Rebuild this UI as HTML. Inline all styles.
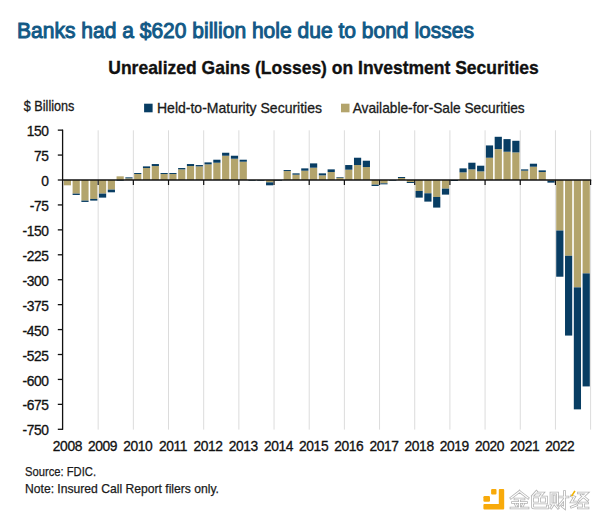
<!DOCTYPE html>
<html><head><meta charset="utf-8">
<style>
html,body{margin:0;padding:0;background:#fff;}
body{width:600px;height:521px;overflow:hidden;}
svg{display:block;}
text{font-family:"Liberation Sans",sans-serif;}
.ax{font-size:13.8px;fill:#111;stroke:#111;stroke-width:0.3px;letter-spacing:-0.4px;}
.t1{font-size:22px;fill:#125986;stroke:#125986;stroke-width:1.0px;}
.t2{font-size:19px;font-weight:bold;fill:#111;stroke:#111;stroke-width:0.35px;}
.lg{font-size:14.2px;fill:#1a1a1a;stroke:#1a1a1a;stroke-width:0.3px;}
.ft{font-size:13px;fill:#1a1a1a;stroke:#1a1a1a;stroke-width:0.25px;}
</style></head><body>
<svg width="600" height="521" viewBox="0 0 600 521">
<rect width="600" height="521" fill="#fff"/>
<text x="17" y="37.5" class="t1" textLength="457" lengthAdjust="spacingAndGlyphs">Banks had a $620 billion hole due to bond losses</text>
<text x="108.3" y="74" class="t2" textLength="430.5" lengthAdjust="spacingAndGlyphs">Unrealized Gains (Losses) on Investment Securities</text>
<text x="23.8" y="111" class="lg" textLength="50.6" lengthAdjust="spacingAndGlyphs">$ Billions</text>
<rect x="144.1" y="103.7" width="8.5" height="8.6" fill="#083d63"/>
<text x="157" y="113" class="lg" textLength="165" lengthAdjust="spacingAndGlyphs">Held-to-Maturity Securities</text>
<rect x="341" y="103.7" width="8.5" height="8.6" fill="#b3a46c"/>
<text x="352.7" y="113" class="lg" textLength="172" lengthAdjust="spacingAndGlyphs">Available-for-Sale Securities</text>
<line x1="98.17" y1="130.3" x2="98.17" y2="429.6" stroke="#dcdcdc" stroke-width="1"/>
<line x1="133.35" y1="130.3" x2="133.35" y2="429.6" stroke="#dcdcdc" stroke-width="1"/>
<line x1="168.52" y1="130.3" x2="168.52" y2="429.6" stroke="#dcdcdc" stroke-width="1"/>
<line x1="203.69" y1="130.3" x2="203.69" y2="429.6" stroke="#dcdcdc" stroke-width="1"/>
<line x1="238.87" y1="130.3" x2="238.87" y2="429.6" stroke="#dcdcdc" stroke-width="1"/>
<line x1="274.04" y1="130.3" x2="274.04" y2="429.6" stroke="#dcdcdc" stroke-width="1"/>
<line x1="309.21" y1="130.3" x2="309.21" y2="429.6" stroke="#dcdcdc" stroke-width="1"/>
<line x1="344.39" y1="130.3" x2="344.39" y2="429.6" stroke="#dcdcdc" stroke-width="1"/>
<line x1="379.56" y1="130.3" x2="379.56" y2="429.6" stroke="#dcdcdc" stroke-width="1"/>
<line x1="414.73" y1="130.3" x2="414.73" y2="429.6" stroke="#dcdcdc" stroke-width="1"/>
<line x1="449.91" y1="130.3" x2="449.91" y2="429.6" stroke="#dcdcdc" stroke-width="1"/>
<line x1="485.08" y1="130.3" x2="485.08" y2="429.6" stroke="#dcdcdc" stroke-width="1"/>
<line x1="520.25" y1="130.3" x2="520.25" y2="429.6" stroke="#dcdcdc" stroke-width="1"/>
<line x1="555.43" y1="130.3" x2="555.43" y2="429.6" stroke="#dcdcdc" stroke-width="1"/>
<line x1="590.60" y1="130.3" x2="590.60" y2="429.6" stroke="#dcdcdc" stroke-width="1"/>
<rect x="63.80" y="180.00" width="7.2" height="5.32" fill="#b3a46c"/>
<rect x="72.59" y="180.00" width="7.2" height="13.63" fill="#b3a46c"/>
<rect x="72.59" y="193.63" width="7.2" height="1.33" fill="#083d63"/>
<rect x="81.38" y="180.00" width="7.2" height="20.61" fill="#b3a46c"/>
<rect x="81.38" y="200.61" width="7.2" height="1.33" fill="#083d63"/>
<rect x="90.18" y="180.00" width="7.2" height="18.95" fill="#b3a46c"/>
<rect x="90.18" y="198.95" width="7.2" height="1.66" fill="#083d63"/>
<rect x="98.97" y="180.00" width="7.2" height="13.63" fill="#b3a46c"/>
<rect x="98.97" y="193.63" width="7.2" height="3.99" fill="#083d63"/>
<rect x="107.76" y="180.00" width="7.2" height="9.64" fill="#b3a46c"/>
<rect x="107.76" y="189.64" width="7.2" height="2.66" fill="#083d63"/>
<rect x="116.56" y="176.34" width="7.2" height="3.66" fill="#b3a46c"/>
<rect x="116.56" y="180.00" width="7.2" height="0.66" fill="#083d63"/>
<rect x="125.35" y="178.34" width="7.2" height="1.66" fill="#b3a46c"/>
<rect x="125.35" y="177.34" width="7.2" height="1.00" fill="#083d63"/>
<rect x="134.14" y="174.02" width="7.2" height="5.98" fill="#b3a46c"/>
<rect x="134.14" y="173.02" width="7.2" height="1.00" fill="#083d63"/>
<rect x="142.94" y="168.03" width="7.2" height="11.97" fill="#b3a46c"/>
<rect x="142.94" y="166.37" width="7.2" height="1.66" fill="#083d63"/>
<rect x="151.73" y="166.04" width="7.2" height="13.96" fill="#b3a46c"/>
<rect x="151.73" y="164.04" width="7.2" height="1.99" fill="#083d63"/>
<rect x="160.52" y="174.02" width="7.2" height="5.98" fill="#b3a46c"/>
<rect x="160.52" y="173.02" width="7.2" height="1.00" fill="#083d63"/>
<rect x="169.32" y="174.02" width="7.2" height="5.98" fill="#b3a46c"/>
<rect x="169.32" y="173.02" width="7.2" height="1.00" fill="#083d63"/>
<rect x="178.11" y="169.36" width="7.2" height="10.64" fill="#b3a46c"/>
<rect x="178.11" y="168.03" width="7.2" height="1.33" fill="#083d63"/>
<rect x="186.90" y="166.04" width="7.2" height="13.96" fill="#b3a46c"/>
<rect x="186.90" y="164.04" width="7.2" height="1.99" fill="#083d63"/>
<rect x="195.70" y="166.37" width="7.2" height="13.63" fill="#b3a46c"/>
<rect x="195.70" y="165.04" width="7.2" height="1.33" fill="#083d63"/>
<rect x="204.49" y="164.38" width="7.2" height="15.62" fill="#b3a46c"/>
<rect x="204.49" y="162.38" width="7.2" height="1.99" fill="#083d63"/>
<rect x="213.28" y="162.72" width="7.2" height="17.28" fill="#b3a46c"/>
<rect x="213.28" y="159.72" width="7.2" height="2.99" fill="#083d63"/>
<rect x="222.08" y="155.73" width="7.2" height="24.27" fill="#b3a46c"/>
<rect x="222.08" y="152.74" width="7.2" height="2.99" fill="#083d63"/>
<rect x="230.87" y="158.73" width="7.2" height="21.27" fill="#b3a46c"/>
<rect x="230.87" y="155.73" width="7.2" height="2.99" fill="#083d63"/>
<rect x="239.66" y="161.72" width="7.2" height="18.28" fill="#b3a46c"/>
<rect x="239.66" y="159.72" width="7.2" height="1.99" fill="#083d63"/>
<rect x="248.46" y="180.00" width="7.2" height="0.66" fill="#083d63"/>
<rect x="257.25" y="180.00" width="7.2" height="0.66" fill="#083d63"/>
<rect x="266.04" y="180.00" width="7.2" height="2.33" fill="#b3a46c"/>
<rect x="266.04" y="182.33" width="7.2" height="2.99" fill="#083d63"/>
<rect x="274.84" y="180.00" width="7.2" height="0.66" fill="#083d63"/>
<rect x="283.63" y="171.03" width="7.2" height="8.97" fill="#b3a46c"/>
<rect x="283.63" y="170.03" width="7.2" height="1.00" fill="#083d63"/>
<rect x="292.42" y="174.68" width="7.2" height="5.32" fill="#b3a46c"/>
<rect x="292.42" y="173.35" width="7.2" height="1.33" fill="#083d63"/>
<rect x="301.22" y="170.69" width="7.2" height="9.31" fill="#b3a46c"/>
<rect x="301.22" y="168.37" width="7.2" height="2.33" fill="#083d63"/>
<rect x="310.01" y="167.70" width="7.2" height="12.30" fill="#b3a46c"/>
<rect x="310.01" y="163.38" width="7.2" height="4.32" fill="#083d63"/>
<rect x="318.80" y="175.35" width="7.2" height="4.65" fill="#b3a46c"/>
<rect x="318.80" y="173.35" width="7.2" height="1.99" fill="#083d63"/>
<rect x="327.60" y="172.02" width="7.2" height="7.98" fill="#b3a46c"/>
<rect x="327.60" y="169.36" width="7.2" height="2.66" fill="#083d63"/>
<rect x="336.39" y="177.67" width="7.2" height="2.33" fill="#b3a46c"/>
<rect x="336.39" y="177.01" width="7.2" height="0.66" fill="#083d63"/>
<rect x="345.18" y="169.70" width="7.2" height="10.30" fill="#b3a46c"/>
<rect x="345.18" y="165.04" width="7.2" height="4.65" fill="#083d63"/>
<rect x="353.98" y="165.04" width="7.2" height="14.96" fill="#b3a46c"/>
<rect x="353.98" y="157.73" width="7.2" height="7.31" fill="#083d63"/>
<rect x="362.77" y="167.04" width="7.2" height="12.96" fill="#b3a46c"/>
<rect x="362.77" y="160.72" width="7.2" height="6.32" fill="#083d63"/>
<rect x="371.56" y="180.00" width="7.2" height="4.65" fill="#b3a46c"/>
<rect x="371.56" y="184.65" width="7.2" height="1.33" fill="#083d63"/>
<rect x="380.36" y="180.00" width="7.2" height="3.32" fill="#b3a46c"/>
<rect x="380.36" y="183.32" width="7.2" height="1.00" fill="#083d63"/>
<rect x="389.15" y="180.00" width="7.2" height="0.66" fill="#083d63"/>
<rect x="397.94" y="178.01" width="7.2" height="1.99" fill="#b3a46c"/>
<rect x="397.94" y="177.01" width="7.2" height="1.00" fill="#083d63"/>
<rect x="406.74" y="180.00" width="7.2" height="1.99" fill="#b3a46c"/>
<rect x="406.74" y="181.99" width="7.2" height="1.00" fill="#083d63"/>
<rect x="415.53" y="180.00" width="7.2" height="10.97" fill="#b3a46c"/>
<rect x="415.53" y="190.97" width="7.2" height="6.65" fill="#083d63"/>
<rect x="424.32" y="180.00" width="7.2" height="13.30" fill="#b3a46c"/>
<rect x="424.32" y="193.30" width="7.2" height="8.31" fill="#083d63"/>
<rect x="433.12" y="180.00" width="7.2" height="16.95" fill="#b3a46c"/>
<rect x="433.12" y="196.95" width="7.2" height="10.64" fill="#083d63"/>
<rect x="441.91" y="180.00" width="7.2" height="8.64" fill="#b3a46c"/>
<rect x="441.91" y="188.64" width="7.2" height="5.98" fill="#083d63"/>
<rect x="450.70" y="180.00" width="7.2" height="1.00" fill="#083d63"/>
<rect x="459.50" y="172.35" width="7.2" height="7.65" fill="#b3a46c"/>
<rect x="459.50" y="168.37" width="7.2" height="3.99" fill="#083d63"/>
<rect x="468.29" y="169.36" width="7.2" height="10.64" fill="#b3a46c"/>
<rect x="468.29" y="162.72" width="7.2" height="6.65" fill="#083d63"/>
<rect x="477.08" y="171.36" width="7.2" height="8.64" fill="#b3a46c"/>
<rect x="477.08" y="165.71" width="7.2" height="5.65" fill="#083d63"/>
<rect x="485.88" y="157.73" width="7.2" height="22.27" fill="#b3a46c"/>
<rect x="485.88" y="145.43" width="7.2" height="12.30" fill="#083d63"/>
<rect x="494.67" y="149.09" width="7.2" height="30.91" fill="#b3a46c"/>
<rect x="494.67" y="136.79" width="7.2" height="12.30" fill="#083d63"/>
<rect x="503.46" y="151.75" width="7.2" height="28.25" fill="#b3a46c"/>
<rect x="503.46" y="139.11" width="7.2" height="12.63" fill="#083d63"/>
<rect x="512.26" y="152.41" width="7.2" height="27.59" fill="#b3a46c"/>
<rect x="512.26" y="140.78" width="7.2" height="11.63" fill="#083d63"/>
<rect x="521.05" y="170.69" width="7.2" height="9.31" fill="#b3a46c"/>
<rect x="521.05" y="169.36" width="7.2" height="1.33" fill="#083d63"/>
<rect x="529.84" y="166.70" width="7.2" height="13.30" fill="#b3a46c"/>
<rect x="529.84" y="163.71" width="7.2" height="2.99" fill="#083d63"/>
<rect x="538.64" y="172.02" width="7.2" height="7.98" fill="#b3a46c"/>
<rect x="538.64" y="170.36" width="7.2" height="1.66" fill="#083d63"/>
<rect x="547.43" y="180.00" width="7.2" height="0.66" fill="#b3a46c"/>
<rect x="547.43" y="180.66" width="7.2" height="1.99" fill="#083d63"/>
<rect x="556.22" y="180.00" width="7.2" height="50.52" fill="#b3a46c"/>
<rect x="556.22" y="230.52" width="7.2" height="46.20" fill="#083d63"/>
<rect x="565.02" y="180.00" width="7.2" height="75.79" fill="#b3a46c"/>
<rect x="565.02" y="255.79" width="7.2" height="79.78" fill="#083d63"/>
<rect x="573.81" y="180.00" width="7.2" height="107.37" fill="#b3a46c"/>
<rect x="573.81" y="287.37" width="7.2" height="121.99" fill="#083d63"/>
<rect x="582.60" y="180.00" width="7.2" height="93.40" fill="#b3a46c"/>
<rect x="582.60" y="273.40" width="7.2" height="113.02" fill="#083d63"/>
<line x1="62.6" y1="129.7" x2="62.6" y2="429.8" stroke="#111" stroke-width="1.3"/>
<line x1="57.8" y1="130.14" x2="63" y2="130.14" stroke="#111" stroke-width="1.3"/>
<line x1="57.8" y1="155.07" x2="63" y2="155.07" stroke="#111" stroke-width="1.3"/>
<line x1="57.8" y1="180.00" x2="63" y2="180.00" stroke="#111" stroke-width="1.3"/>
<line x1="57.8" y1="204.93" x2="63" y2="204.93" stroke="#111" stroke-width="1.3"/>
<line x1="57.8" y1="229.86" x2="63" y2="229.86" stroke="#111" stroke-width="1.3"/>
<line x1="57.8" y1="254.79" x2="63" y2="254.79" stroke="#111" stroke-width="1.3"/>
<line x1="57.8" y1="279.72" x2="63" y2="279.72" stroke="#111" stroke-width="1.3"/>
<line x1="57.8" y1="304.65" x2="63" y2="304.65" stroke="#111" stroke-width="1.3"/>
<line x1="57.8" y1="329.58" x2="63" y2="329.58" stroke="#111" stroke-width="1.3"/>
<line x1="57.8" y1="354.51" x2="63" y2="354.51" stroke="#111" stroke-width="1.3"/>
<line x1="57.8" y1="379.44" x2="63" y2="379.44" stroke="#111" stroke-width="1.3"/>
<line x1="57.8" y1="404.37" x2="63" y2="404.37" stroke="#111" stroke-width="1.3"/>
<line x1="57.8" y1="429.30" x2="63" y2="429.30" stroke="#111" stroke-width="1.3"/>
<line x1="62" y1="180.0" x2="591.2" y2="180.0" stroke="#111" stroke-width="1.5"/>
<line x1="98.17" y1="180.0" x2="98.17" y2="185" stroke="#111" stroke-width="1.2"/>
<line x1="133.35" y1="180.0" x2="133.35" y2="185" stroke="#111" stroke-width="1.2"/>
<line x1="168.52" y1="180.0" x2="168.52" y2="185" stroke="#111" stroke-width="1.2"/>
<line x1="203.69" y1="180.0" x2="203.69" y2="185" stroke="#111" stroke-width="1.2"/>
<line x1="238.87" y1="180.0" x2="238.87" y2="185" stroke="#111" stroke-width="1.2"/>
<line x1="274.04" y1="180.0" x2="274.04" y2="185" stroke="#111" stroke-width="1.2"/>
<line x1="309.21" y1="180.0" x2="309.21" y2="185" stroke="#111" stroke-width="1.2"/>
<line x1="344.39" y1="180.0" x2="344.39" y2="185" stroke="#111" stroke-width="1.2"/>
<line x1="379.56" y1="180.0" x2="379.56" y2="185" stroke="#111" stroke-width="1.2"/>
<line x1="414.73" y1="180.0" x2="414.73" y2="185" stroke="#111" stroke-width="1.2"/>
<line x1="449.91" y1="180.0" x2="449.91" y2="185" stroke="#111" stroke-width="1.2"/>
<line x1="485.08" y1="180.0" x2="485.08" y2="185" stroke="#111" stroke-width="1.2"/>
<line x1="520.25" y1="180.0" x2="520.25" y2="185" stroke="#111" stroke-width="1.2"/>
<line x1="555.43" y1="180.0" x2="555.43" y2="185" stroke="#111" stroke-width="1.2"/>
<line x1="590.60" y1="180.0" x2="590.60" y2="185" stroke="#111" stroke-width="1.2"/>
<text x="48.6" y="136.24" text-anchor="end" class="ax">150</text>
<text x="48.6" y="161.17" text-anchor="end" class="ax">75</text>
<text x="48.6" y="186.10" text-anchor="end" class="ax">0</text>
<text x="48.6" y="211.03" text-anchor="end" class="ax">-75</text>
<text x="48.6" y="235.96" text-anchor="end" class="ax">-150</text>
<text x="48.6" y="260.89" text-anchor="end" class="ax">-225</text>
<text x="48.6" y="285.82" text-anchor="end" class="ax">-300</text>
<text x="48.6" y="310.75" text-anchor="end" class="ax">-375</text>
<text x="48.6" y="335.68" text-anchor="end" class="ax">-450</text>
<text x="48.6" y="360.61" text-anchor="end" class="ax">-525</text>
<text x="48.6" y="385.54" text-anchor="end" class="ax">-600</text>
<text x="48.6" y="410.47" text-anchor="end" class="ax">-675</text>
<text x="48.6" y="435.40" text-anchor="end" class="ax">-750</text>
<text x="67.40" y="450.6" text-anchor="middle" class="ax">2008</text>
<text x="102.57" y="450.6" text-anchor="middle" class="ax">2009</text>
<text x="137.74" y="450.6" text-anchor="middle" class="ax">2010</text>
<text x="172.92" y="450.6" text-anchor="middle" class="ax">2011</text>
<text x="208.09" y="450.6" text-anchor="middle" class="ax">2012</text>
<text x="243.26" y="450.6" text-anchor="middle" class="ax">2013</text>
<text x="278.44" y="450.6" text-anchor="middle" class="ax">2014</text>
<text x="313.61" y="450.6" text-anchor="middle" class="ax">2015</text>
<text x="348.78" y="450.6" text-anchor="middle" class="ax">2016</text>
<text x="383.96" y="450.6" text-anchor="middle" class="ax">2017</text>
<text x="419.13" y="450.6" text-anchor="middle" class="ax">2018</text>
<text x="454.30" y="450.6" text-anchor="middle" class="ax">2019</text>
<text x="489.48" y="450.6" text-anchor="middle" class="ax">2020</text>
<text x="524.65" y="450.6" text-anchor="middle" class="ax">2021</text>
<text x="559.82" y="450.6" text-anchor="middle" class="ax">2022</text>
<text x="25" y="476" class="ft" textLength="71" lengthAdjust="spacingAndGlyphs">Source: FDIC.</text>
<text x="25" y="493" class="ft" textLength="194" lengthAdjust="spacingAndGlyphs">Note: Insured Call Report filers only.</text>
<g fill="#f8aa0a">
<rect x="491.1" y="489" width="5.4" height="5.5" rx="1"/>
<rect x="483.4" y="496.1" width="6.6" height="5.7" rx="1.2"/>
<path d="M499.8,489 H503.2 Q504.2,489 504.2,490 V508.6 Q504.2,509.6 503.2,509.6 H484.4 Q483.4,509.6 483.4,508.6 V504.9 Q483.4,503.9 484.4,503.9 H498.8 V490 Q498.8,489 499.8,489 Z"/>
</g>
<g transform="translate(510.5,491)" fill="none" stroke-linecap="square">
<g stroke="#b4b4b4" stroke-width="2.7">
<path d="M9,0.5 L0.5,7 M9,0.5 L17.5,7 M4.5,8 H13.5 M2,11.5 H16 M9,8 V17 M5,13 L6,15 M13,13 L12,15 M0.5,17 H17.5"/>
<path transform="translate(20,0)" d="M6,0.5 L2,5 M5,2 H12.5 L10,5 M2,6 H16 V12 H2 Z M9,6 V12 M2,6 V16 Q2,17 4,17 H17 V15"/>
<path transform="translate(40,0)" d="M0.5,2 H7 V13 H0.5 Z M3.7,5 V11 M2.5,14 L0.5,17 M5,14 L7.5,17 M9,6 H17.5 M14,0.5 V17 L12,15.5 M14,8 L9,14"/>
<path transform="translate(60,0)" d="M1,5 L4,6 L1,11 H6 M1,16 L6,14 M8,2 H16.5 L9,9 M11,4 L17,9 M9,12 H17 M13,12 V17 M8,17 H17.5"/>
</g>
<g stroke="#ffffff" stroke-width="1.1">
<path d="M9,0.5 L0.5,7 M9,0.5 L17.5,7 M4.5,8 H13.5 M2,11.5 H16 M9,8 V17 M5,13 L6,15 M13,13 L12,15 M0.5,17 H17.5"/>
<path transform="translate(20,0)" d="M6,0.5 L2,5 M5,2 H12.5 L10,5 M2,6 H16 V12 H2 Z M9,6 V12 M2,6 V16 Q2,17 4,17 H17 V15"/>
<path transform="translate(40,0)" d="M0.5,2 H7 V13 H0.5 Z M3.7,5 V11 M2.5,14 L0.5,17 M5,14 L7.5,17 M9,6 H17.5 M14,0.5 V17 L12,15.5 M14,8 L9,14"/>
<path transform="translate(60,0)" d="M1,5 L4,6 L1,11 H6 M1,16 L6,14 M8,2 H16.5 L9,9 M11,4 L17,9 M9,12 H17 M13,12 V17 M8,17 H17.5"/>
</g>
<path transform="translate(60,0)" d="M4,0.5 L1.5,4.5" stroke="#f2b400" stroke-width="1.6"/>
</g>
</svg>
</body></html>
